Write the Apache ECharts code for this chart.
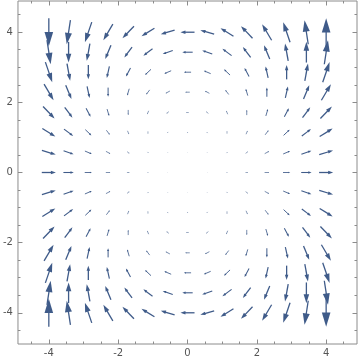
<!DOCTYPE html>
<html>
<head>
<meta charset="utf-8">
<script src="https://cdn.jsdelivr.net/npm/echarts@6/dist/echarts.min.js"></script>
<style>html,body{margin:0;padding:0;background:#fff}#c{width:360px;height:361px}</style>
</head>
<body>
<div id="c"></div>
<script>
// grid sample positions (15 x 15)
const xs = [-4, -3.43, -2.86, -2.29, -1.71, -1.14, -0.57, 0, 0.57, 1.14, 1.71, 2.29, 2.86, 3.43, 4];
const ys = [-4, -3.43, -2.86, -2.29, -1.71, -1.14, -0.57, 0, 0.57, 1.14, 1.71, 2.29, 2.86, 3.43, 4];

// horizontal component, rows by ys (bottom to top), columns by xs
const U = [
  [0, -4.2, -7.8, -10.8, -13.1, -14.7, -15.7, -16, -15.7, -14.7, -13.1, -10.8, -7.8, -4.2, 0],
  [4.2, 0, -3.6, -6.5, -8.8, -10.4, -11.4, -11.8, -11.4, -10.4, -8.8, -6.5, -3.6, 0, 4.2],
  [7.8, 3.6, 0, -2.9, -5.2, -6.9, -7.8, -8.2, -7.8, -6.9, -5.2, -2.9, 0, 3.6, 7.8],
  [10.8, 6.5, 2.9, 0, -2.3, -3.9, -4.9, -5.2, -4.9, -3.9, -2.3, 0, 2.9, 6.5, 10.8],
  [13.1, 8.8, 5.2, 2.3, 0, -1.6, -2.6, -2.9, -2.6, -1.6, 0, 2.3, 5.2, 8.8, 13.1],
  [14.7, 10.4, 6.9, 3.9, 1.6, 0, -1.0, -1.3, -1.0, 0, 1.6, 3.9, 6.9, 10.4, 14.7],
  [15.7, 11.4, 7.8, 4.9, 2.6, 1.0, 0, -0.3, 0, 1.0, 2.6, 4.9, 7.8, 11.4, 15.7],
  [16, 11.8, 8.2, 5.2, 2.9, 1.3, 0.3, 0, 0.3, 1.3, 2.9, 5.2, 8.2, 11.8, 16],
  [15.7, 11.4, 7.8, 4.9, 2.6, 1.0, 0, -0.3, 0, 1.0, 2.6, 4.9, 7.8, 11.4, 15.7],
  [14.7, 10.4, 6.9, 3.9, 1.6, 0, -1.0, -1.3, -1.0, 0, 1.6, 3.9, 6.9, 10.4, 14.7],
  [13.1, 8.8, 5.2, 2.3, 0, -1.6, -2.6, -2.9, -2.6, -1.6, 0, 2.3, 5.2, 8.8, 13.1],
  [10.8, 6.5, 2.9, 0, -2.3, -3.9, -4.9, -5.2, -4.9, -3.9, -2.3, 0, 2.9, 6.5, 10.8],
  [7.8, 3.6, 0, -2.9, -5.2, -6.9, -7.8, -8.2, -7.8, -6.9, -5.2, -2.9, 0, 3.6, 7.8],
  [4.2, 0, -3.6, -6.5, -8.8, -10.4, -11.4, -11.8, -11.4, -10.4, -8.8, -6.5, -3.6, 0, 4.2],
  [0, -4.2, -7.8, -10.8, -13.1, -14.7, -15.7, -16, -15.7, -14.7, -13.1, -10.8, -7.8, -4.2, 0]
];

// vertical component, rows by ys (bottom to top), columns by xs
const V = [
  [32.0, 27.4, 22.9, 18.3, 13.7, 9.1, 4.6, 0, -4.6, -9.1, -13.7, -18.3, -22.9, -27.4, -32.0],
  [27.4, 23.5, 19.6, 15.7, 11.8, 7.8, 3.9, 0, -3.9, -7.8, -11.8, -15.7, -19.6, -23.5, -27.4],
  [22.9, 19.6, 16.3, 13.1, 9.8, 6.5, 3.3, 0, -3.3, -6.5, -9.8, -13.1, -16.3, -19.6, -22.9],
  [18.3, 15.7, 13.1, 10.4, 7.8, 5.2, 2.6, 0, -2.6, -5.2, -7.8, -10.4, -13.1, -15.7, -18.3],
  [13.7, 11.8, 9.8, 7.8, 5.9, 3.9, 2.0, 0, -2.0, -3.9, -5.9, -7.8, -9.8, -11.8, -13.7],
  [9.1, 7.8, 6.5, 5.2, 3.9, 2.6, 1.3, 0, -1.3, -2.6, -3.9, -5.2, -6.5, -7.8, -9.1],
  [4.6, 3.9, 3.3, 2.6, 2.0, 1.3, 0.7, 0, -0.7, -1.3, -2.0, -2.6, -3.3, -3.9, -4.6],
  [0, 0, 0, 0, 0, 0, 0, 0, 0, 0, 0, 0, 0, 0, 0],
  [-4.6, -3.9, -3.3, -2.6, -2.0, -1.3, -0.7, 0, 0.7, 1.3, 2.0, 2.6, 3.3, 3.9, 4.6],
  [-9.1, -7.8, -6.5, -5.2, -3.9, -2.6, -1.3, 0, 1.3, 2.6, 3.9, 5.2, 6.5, 7.8, 9.1],
  [-13.7, -11.8, -9.8, -7.8, -5.9, -3.9, -2.0, 0, 2.0, 3.9, 5.9, 7.8, 9.8, 11.8, 13.7],
  [-18.3, -15.7, -13.1, -10.4, -7.8, -5.2, -2.6, 0, 2.6, 5.2, 7.8, 10.4, 13.1, 15.7, 18.3],
  [-22.9, -19.6, -16.3, -13.1, -9.8, -6.5, -3.3, 0, 3.3, 6.5, 9.8, 13.1, 16.3, 19.6, 22.9],
  [-27.4, -23.5, -19.6, -15.7, -11.8, -7.8, -3.9, 0, 3.9, 7.8, 11.8, 15.7, 19.6, 23.5, 27.4],
  [-32.0, -27.4, -22.9, -18.3, -13.7, -9.1, -4.6, 0, 4.6, 9.1, 13.7, 18.3, 22.9, 27.4, 32.0]
];

const majorTicks = [-4, -2, 0, 2, 4];
const minorTicks = [-4.5, -3.5, -3, -2.5, -1.5, -1, -0.5, 0.5, 1, 1.5, 2.5, 3, 3.5, 4.5];

const ARROW_COLOR = '#3f5b89';
const FRAME_COLOR = '#8c8c8c';
const LEN_PER_UNIT = 0.88;
const AX_MIN = -4.89, AX_MAX = 4.89;

const data = [];
for (let j = 0; j < ys.length; j++) {
  for (let i = 0; i < xs.length; i++) {
    data.push([xs[i], ys[j], U[j][i], V[j][i]]);
  }
}

function renderArrow(params, api) {
  const x = api.value(0), y = api.value(1), u = api.value(2), v = api.value(3);
  const mag = Math.hypot(u, v);
  if (mag < 1e-6) return null;
  const p = api.coord([x, y]);
  const L = LEN_PER_UNIT * mag;
  const dx = u / mag, dy = -v / mag;
  const nx = -dy, ny = dx;
  const h = Math.min(0.2 * L + 0.011 * L * L, 0.6 * L);
  const hw = 0.28 * h + 0.3;
  const lw = Math.min(1.3, 0.35 + 0.07 * L);
  const tip = [p[0] + dx * L / 2, p[1] + dy * L / 2];
  const tail = [p[0] - dx * L / 2, p[1] - dy * L / 2];
  const base = [tip[0] - dx * h, tip[1] - dy * h];
  const shaftEnd = [base[0] + dx * h * 0.3, base[1] + dy * h * 0.3];
  return {
    type: 'group',
    children: [
      {
        type: 'line',
        shape: { x1: tail[0], y1: tail[1], x2: shaftEnd[0], y2: shaftEnd[1] },
        style: { stroke: ARROW_COLOR, lineWidth: lw }
      },
      {
        type: 'polygon',
        shape: { points: [tip, [base[0] + nx * hw, base[1] + ny * hw], [base[0] - nx * hw, base[1] - ny * hw]] },
        style: { fill: ARROW_COLOR }
      }
    ]
  };
}

function axis(dim, position, ticks, len, labels) {
  return {
    type: 'value',
    min: AX_MIN, max: AX_MAX,
    position: position,
    axisLine: { show: false, onZero: false },
    splitLine: { show: false },
    axisTick: { show: true, inside: true, length: len, customValues: ticks, lineStyle: { color: FRAME_COLOR, width: 1 } },
    axisLabel: labels ? {
      show: true, customValues: ticks, color: '#555', fontSize: 10,
      fontFamily: 'DejaVu Sans', margin: dim === 'x' ? 4 : 5
    } : { show: false }
  };
}

const chart = echarts.init(document.getElementById('c'), null, { renderer: 'canvas' });
chart.setOption({
  animation: false,
  backgroundColor: '#fff',
  grid: { left: 15, right: 3, top: 1, bottom: 17, show: true, borderColor: FRAME_COLOR, borderWidth: 1, backgroundColor: 'transparent' },
  xAxis: [
    axis('x', 'bottom', majorTicks, 4.5, true),
    axis('x', 'bottom', minorTicks, 2.5, false),
    axis('x', 'top', majorTicks, 4.5, false),
    axis('x', 'top', minorTicks, 2.5, false)
  ],
  yAxis: [
    axis('y', 'left', majorTicks, 4.5, true),
    axis('y', 'left', minorTicks, 2.5, false),
    axis('y', 'right', majorTicks, 4.5, false),
    axis('y', 'right', minorTicks, 2.5, false)
  ],
  series: [{
    type: 'custom',
    xAxisIndex: 0, yAxisIndex: 0,
    renderItem: renderArrow,
    data: data,
    encode: { x: 0, y: 1 },
    silent: true
  }]
});
</script>
</body>
</html>
